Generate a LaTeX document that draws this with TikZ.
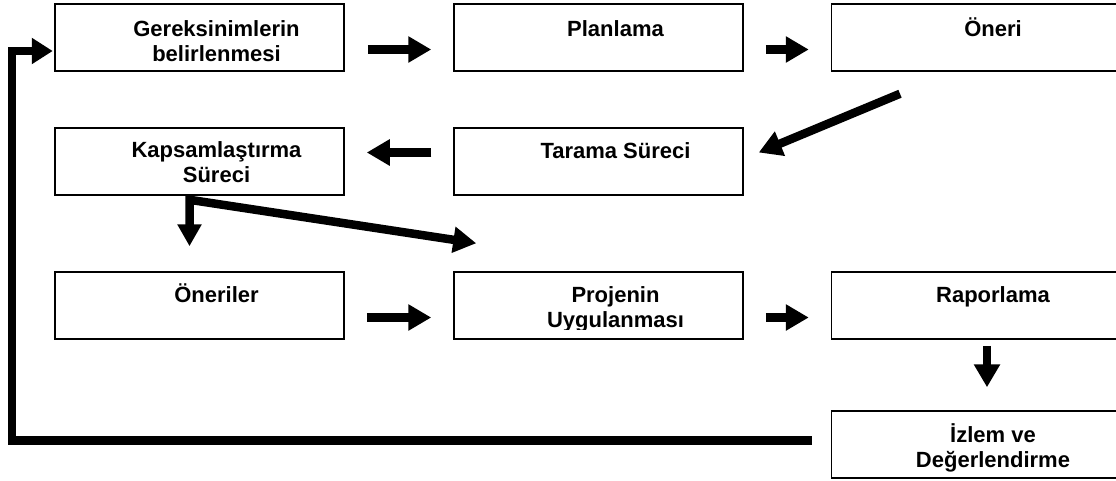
\documentclass[tikz,border=0pt]{standalone}
\usepackage{fontspec}
\setmainfont{Liberation Sans}
\usetikzlibrary{arrows.meta,calc}
\begin{document}
\begin{tikzpicture}[x=1pt,y=-1pt,
  box/.style={draw,line width=1.5pt,minimum width=289pt,minimum height=67pt,inner sep=0pt},
  lbl/.style={font=\fontsize{22}{25}\selectfont\bfseries,align=center,anchor=base,inner sep=0pt},
  fat/.style={line width=8.5pt,line join=miter,-{Triangle[length=23pt,width=25pt]}},
  fatboth/.style={line width=8.5pt,line join=miter,{Triangle[length=22pt,width=23pt]}-{Triangle[length=23pt,width=25pt]}}]
\clip (0,0) rectangle (1116,480);
% boxes
\node[box] (g) at (199.5,37.5) {};
\node[box] (p) at (598.5,37.5) {};
\node[box] (o) at (976,37.5) {};
\node[box] (k) at (199.5,161.5) {};
\node[box] (t) at (598.5,161.5) {};
\node[box] (on) at (199.5,305.5) {};
\node[box] (pu) at (598.5,305.5) {};
\node[box] (r) at (976,305.5) {};
\node[box] (iz) at (976,444.5) {};
% labels (multi-line labels anchored at the baseline of their last line)
\node[lbl] (gl) at ($(g.north)+(17,58)$) {Gereksinimlerin\\belirlenmesi};
\node[lbl] (pl) at ($(p.north)+(17,33)$) {Planlama};
\node[lbl] (ol) at ($(o.north)+(17,33)$) {Öneri};
\node[lbl] (kl) at ($(k.north)+(17,55)$) {Kapsamlaştırma\\Süreci};
\node[lbl] (tl) at ($(t.north)+(17,31)$) {Tarama Süreci};
\node[lbl] (onl) at ($(on.north)+(17,31)$) {Öneriler};
\begin{scope}
\clip ($(pu.north west)+(1,1)$) rectangle ($(pu.east)+(-1,24)$);
\node[lbl] (pul) at ($(pu.north)+(17,56)$) {Projenin\\Uygulanması};
\end{scope}
\node[lbl] (rl) at ($(r.north)+(17,31)$) {Raporlama};
\node[lbl] (izl) at ($(iz.north)+(17,57)$) {İzlem ve\\Değerlendirme};
% connectors
\draw[fat] ($(g.east)+(23,12)$) -- ($(p.west)+(-22,12)$);
\draw[fat] ($(p.east)+(22,12)$) -- ($(o.west)+(-22,12)$);
\draw[fat] ($(o.south)+(-76,22)$) -- ($(t.east)+(15,-9)$);
\draw[fat] ($(t.west)+(-22,-9)$) -- ($(k.east)+(22,-9)$);
\coordinate (kb) at ($(k.south)+(-10,4)$);
\draw[fatboth] ($(on.north)+(-10,-25)$) -- (kb) -- ($(pu.north west)+(23,-28)$);
\draw[fat] ($(on.east)+(22,12)$) -- ($(pu.west)+(-22,12)$);
\draw[fat] ($(pu.east)+(22,12)$) -- ($(r.west)+(-22,12)$);
\draw[fat] ($(r.south)+(11,6)$) -- ($(iz.north)+(11,-23)$);
\coordinate (fb0) at ($(iz.west)+(-19,-4)$);
\coordinate (fb1) at (12,440.5);
\coordinate (fb2) at (12,51);
\draw[line width=8.5pt,line join=miter,-{Triangle[length=21pt,width=25pt]}] (fb0) -- (fb1) -- (fb2) -- ($(g.west)+(-1.5,13.5)$);
\end{tikzpicture}
\end{document}
